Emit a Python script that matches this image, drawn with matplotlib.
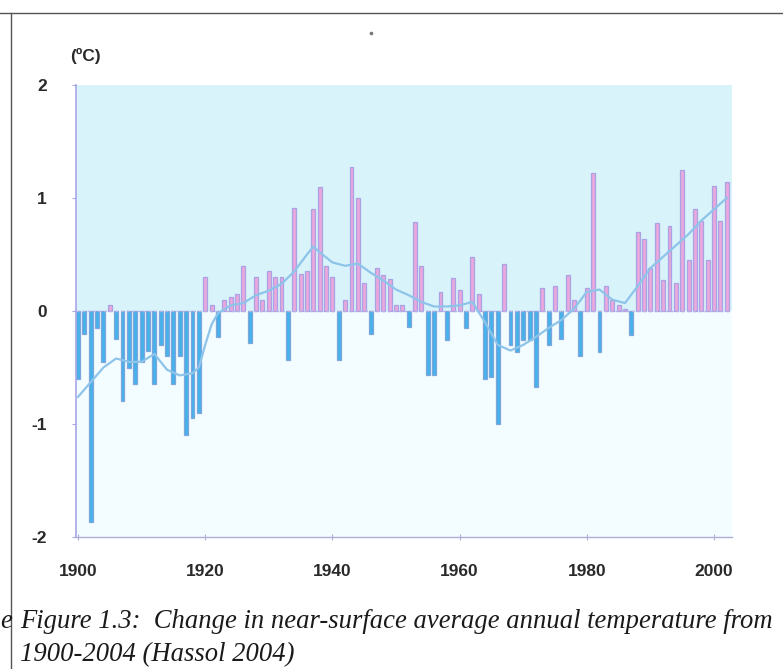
import matplotlib
matplotlib.use("Agg")
import matplotlib.pyplot as plt
import numpy as np

# ---- data ----
years = list(range(1900, 2003))
anomaly = [
    -0.60, -0.20, -1.87, -0.15, -0.45, 0.05, -0.25, -0.80, -0.50, -0.65,   # 1900-1909
    -0.45, -0.35, -0.65, -0.30, -0.40, -0.65, -0.40, -1.10, -0.95, -0.90,  # 1910-1919
    0.30, 0.05, -0.23, 0.10, 0.12, 0.15, 0.40, -0.28, 0.30, 0.10,          # 1920-1929
    0.35, 0.30, 0.30, -0.43, 0.91, 0.33, 0.35, 0.90, 1.10, 0.40,           # 1930-1939
    0.30, -0.43, 0.10, 1.27, 1.00, 0.25, -0.20, 0.38, 0.32, 0.28,          # 1940-1949
    0.05, 0.05, -0.14, 0.79, 0.40, -0.57, -0.57, 0.17, -0.26, 0.29,        # 1950-1959
    0.19, -0.15, 0.48, 0.15, -0.60, -0.58, -1.00, 0.42, -0.30, -0.36,      # 1960-1969
    -0.26, -0.26, -0.67, 0.20, -0.30, 0.22, -0.25, 0.32, 0.10, -0.40,      # 1970-1979
    0.20, 1.22, -0.36, 0.22, 0.10, 0.05, 0.02, -0.21, 0.70, 0.64,          # 1980-1989
    0.38, 0.78, 0.27, 0.75, 0.25, 1.25, 0.45, 0.90, 0.80, 0.45,            # 1990-1999
    1.11, 0.80, 1.14,                                                      # 2000-2002
]
smooth_years = [1900, 1902, 1904, 1906, 1908, 1910, 1912, 1914, 1916, 1918, 1919,
                1920, 1921, 1922, 1924, 1926, 1928, 1930, 1932, 1934, 1936, 1937,
                1938, 1940, 1942, 1944, 1946, 1948, 1950, 1952, 1954, 1956, 1958,
                1960, 1962, 1964, 1966, 1968, 1970, 1972, 1974, 1976, 1978, 1980,
                1982, 1984, 1986, 1988, 1990, 1992, 1994, 1996, 1998, 2000, 2002]
smooth_vals = [-0.76, -0.63, -0.50, -0.42, -0.45, -0.45, -0.38, -0.52, -0.57, -0.55, -0.50,
               -0.30, -0.12, -0.02, 0.05, 0.07, 0.14, 0.18, 0.24, 0.35, 0.50, 0.57,
               0.52, 0.43, 0.40, 0.42, 0.34, 0.27, 0.19, 0.14, 0.08, 0.04, 0.04,
               0.05, 0.08, -0.10, -0.30, -0.35, -0.30, -0.23, -0.15, -0.08, 0.02, 0.17,
               0.19, 0.10, 0.07, 0.22, 0.38, 0.48, 0.58, 0.68, 0.80, 0.90, 1.00]
xtick_years = [1900, 1920, 1940, 1960, 1980, 2000]
ytick_vals = [-2, -1, 0, 1, 2]
ytick_labels = ["-2", "-1", "0", "1", "2"]

# ---- figure ----
W, H = 783, 669
fig = plt.figure(figsize=(W / 100, H / 100), dpi=100)
fig.patch.set_facecolor("white")

ax_l, ax_r, ax_t, ax_b = 76, 732, 85, 537
ax = fig.add_axes([ax_l / W, 1 - ax_b / H, (ax_r - ax_l) / W, (ax_b - ax_t) / H])
pxyr = 6.36
x0 = 1900 - (78 - ax_l) / pxyr
x1 = x0 + (ax_r - ax_l) / pxyr
ax.set_xlim(x0, x1)
ax.set_ylim(-2, 2)
ax.set_facecolor("white")

# backgrounds
ax.axhspan(0, 2, color="#d8f3fa", zorder=0, lw=0)
ax.axhspan(-2, 0, color="#f3fcfe", zorder=0, lw=0)

vals = np.array(anomaly)
yrs = np.array(years)
pos = vals >= 0
ax.bar(yrs[pos], vals[pos], width=0.62, color="#eaa8dc", edgecolor="#a9a3e6",
       linewidth=0.9, zorder=2)
ax.bar(yrs[~pos], vals[~pos], width=0.62, color="#45b2ea", edgecolor="#7fa6dc",
       linewidth=0.9, zorder=2)

ax.axhline(0, color="#b7b3e6", lw=1.0, ls=(0, (2, 2)), zorder=3)
ax.plot(smooth_years, smooth_vals, color="#8ec4ea", lw=1.6, zorder=4)

for s in ["top", "right"]:
    ax.spines[s].set_visible(False)
ax.spines["left"].set_color("#a8a6e8")
ax.spines["left"].set_linewidth(1.2)
ax.spines["bottom"].set_color("#b0aed8")
ax.spines["bottom"].set_linewidth(1.0)

lab_font = dict(family=["Liberation Sans", "DejaVu Sans"], weight="bold",
                size=12.5, color="#2a2a2a")
ax.set_xticks(xtick_years)
ax.set_xticklabels([str(y) for y in xtick_years], **lab_font)
ax.set_yticks(ytick_vals)
ax.set_yticklabels(ytick_labels, **lab_font)
ax.tick_params(axis="x", direction="inout", length=5, color="#b0aed8", pad=17)
ax.tick_params(axis="y", direction="out", length=3, color="#a8a6e8", pad=18)

fig.text(70 / W, 1 - 56 / H, "(ºC)", ha="left", va="center", **lab_font)

# caption
cap_font = dict(family=["Liberation Serif", "DejaVu Serif"], style="italic",
                size=19.2, color="#1a1a1a")
fig.text(20 / W, 1 - 622 / H,
         "Figure 1.3:  Change in near-surface average annual temperature from",
         ha="left", va="center", **cap_font)
fig.text(20 / W, 1 - 655 / H, "1900-2004 (Hassol 2004)",
         ha="left", va="center", **cap_font)
fig.text(0.5 / W, 1 - 622 / H, "e", ha="left", va="center", **cap_font)

# scan frame lines
fig.add_artist(plt.Line2D([0, 1], [1 - 13 / H, 1 - 13 / H], color="#555555", lw=1.0))
fig.add_artist(plt.Line2D([11 / W, 11 / W], [0, 1 - 13 / H], color="#555555", lw=1.0))
fig.add_artist(plt.Line2D([371 / W], [1 - 33 / H], marker="o", ms=1.6,
                          color="#777777", lw=0))

fig.savefig("out.png", dpi=100)
